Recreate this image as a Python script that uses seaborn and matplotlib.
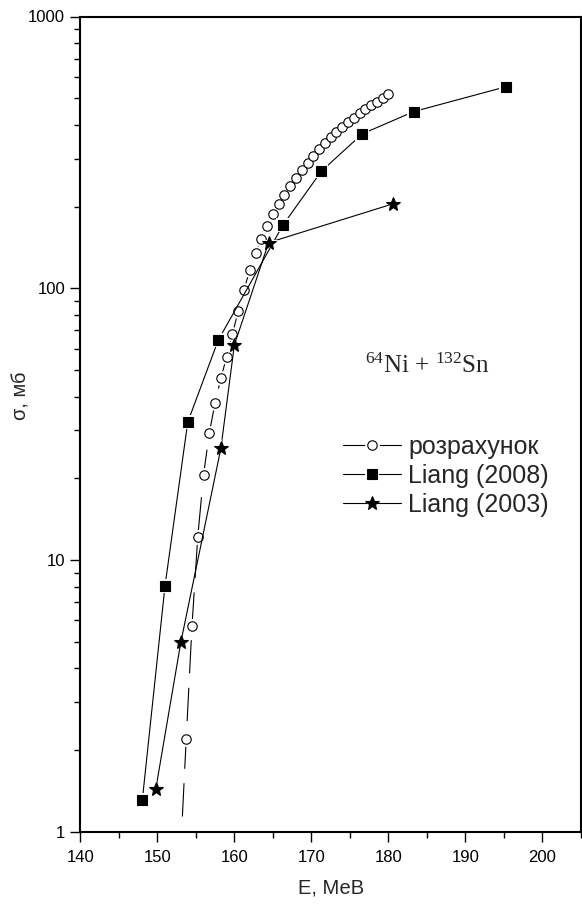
import matplotlib
matplotlib.use("Agg")
import matplotlib.pyplot as plt
import seaborn as sns
from matplotlib.legend_handler import HandlerTuple
from matplotlib.lines import Line2D

# ---------------- data ----------------
calc_E = [153.75, 154.5, 155.25, 156.0, 156.75, 157.5, 158.25, 159.0, 159.75,
          160.5, 161.25, 162.0, 162.75, 163.5, 164.25, 165.0, 165.75, 166.5,
          167.25, 168.0, 168.75, 169.5, 170.25, 171.0, 171.75, 172.5, 173.25,
          174.0, 174.75, 175.5, 176.25, 177.0, 177.75, 178.5, 179.25, 180.0]
calc_sigma = [2.20, 5.74, 12.2, 20.6, 29.4, 38.0, 46.7, 56.1, 67.8,
              82.6, 98.9, 116.6, 134.6, 152.0, 170.1, 187.3, 204.4, 221.2,
              238.8, 255.5, 272.7, 290.1, 307.7, 325.8, 342.8, 359.7, 376.2,
              392.5, 408.4, 424.6, 440.7, 456.0, 471.7, 486.3, 503.0, 519.0]
# start of the calculated curve (no marker)
calc_start_E = [153.25]
calc_start_sigma = [1.14]

liang2008_E = [148.05, 151.0, 153.95, 157.9, 166.35, 171.3, 176.6, 183.3, 195.3]
liang2008_sigma = [1.31, 8.06, 32.2, 64.4, 171.6, 269.7, 370.0, 447.0, 552.0]

liang2003_E = [149.8, 153.05, 158.25, 160.0, 164.45, 180.55]
liang2003_sigma = [1.44, 4.99, 25.8, 61.9, 147.3, 204.4]

labels = ["розрахунок", "Liang (2008)", "Liang (2003)"]
x_ticks = [140, 150, 160, 170, 180, 190, 200]
y_ticks = [1, 10, 100, 1000]
y_ticklabels = ["1", "10", "100", "1000"]

# ---------------- style ----------------
sns.set_style("ticks")
plt.rcParams["font.family"] = ["Liberation Sans", "DejaVu Sans"]
plt.rcParams["mathtext.fontset"] = "custom"
plt.rcParams["mathtext.rm"] = "Liberation Serif"
plt.rcParams["mathtext.default"] = "rm"

fig = plt.figure(figsize=(5.82, 9.06), dpi=100)
W, H = 582, 906
ax = fig.add_axes([80.3 / W, 1 - 832 / H, (581 - 80.3) / W, (832 - 16.5) / H])
ax.set_yscale("log")

LW = 0.8
GAP = 3.8  # pt added to marker size for white gap around markers


def series(E, S, marker, ms, mfc, ls, line_E=None, line_S=None):
    lx = (line_E or []) + E
    ly = (line_S or []) + S
    sns.lineplot(x=lx, y=ly, ax=ax, color="k", lw=LW, linestyle=ls,
                 estimator=None, sort=False, errorbar=None)
    sns.lineplot(x=E, y=S, ax=ax, color="k", linestyle="none", marker=marker,
                 markersize=ms + GAP, markerfacecolor="w", markeredgecolor="w",
                 markeredgewidth=0, estimator=None, sort=False, errorbar=None)
    l2 = ax.lines[-1]
    sns.lineplot(x=E, y=S, ax=ax, color="k", linestyle="none", marker=marker,
                 markersize=ms, markerfacecolor=mfc, markeredgecolor="k",
                 markeredgewidth=0.8, estimator=None, sort=False, errorbar=None)
    l3 = ax.lines[-1]
    proxy = Line2D([], [], color="k", lw=LW, linestyle="-")
    return (proxy, l2, l3)


h_calc = series(calc_E, calc_sigma, "o", 6.8, "w", (0, (30, 13)),
                calc_start_E, calc_start_sigma)
h_2008 = series(liang2008_E, liang2008_sigma, "s", 6.6, "k", "-")
h_2003 = series(liang2003_E, liang2003_sigma, "*", 10.5, "k", "-")

# ---------------- axes ----------------
ax.set_xlim(140, 205)
ax.set_ylim(1, 1000)
ax.set_xticks(x_ticks)
ax.set_xticklabels([str(t) for t in x_ticks])
ax.set_xticks([145, 155, 165, 175, 185, 195, 205], minor=True)
ax.set_yticks(y_ticks)
ax.set_yticklabels(y_ticklabels)
ax.yaxis.set_minor_locator(matplotlib.ticker.LogLocator(base=10, subs=range(2, 10)))
ax.yaxis.set_minor_formatter(matplotlib.ticker.NullFormatter())

for sp in ax.spines.values():
    sp.set_linewidth(1.5)
    sp.set_color("k")
ax.tick_params(which="major", direction="out", length=7, width=1.0,
               labelsize=12, pad=4, colors="k")
ax.tick_params(axis="x", which="major", pad=6)
ax.tick_params(which="minor", direction="out", length=4, width=1.0, colors="k")
ax.tick_params(top=False, right=False, which="both")

ax.set_xlabel("E, МеВ", fontsize=14.5, labelpad=10)
ax.set_ylabel("σ, мб", fontsize=14.5, labelpad=8)
ax.yaxis.set_label_coords(-0.1, 0.535)

fig.text(365 / W, 1 - 373 / H, r"$^{64}$Ni + $^{132}$Sn", fontsize=18,
         family="Liberation Serif", ha="left", va="baseline")

leg = ax.legend([h_calc, h_2008, h_2003], labels,
                handler_map={tuple: HandlerTuple(ndivide=1)},
                loc="upper left", bbox_to_anchor=(343 / W, 1 - 435 / H),
                bbox_transform=fig.transFigure, frameon=False, fontsize=18,
                handlelength=2.3, handletextpad=0.3, labelspacing=0.2,
                borderpad=0, borderaxespad=0)

fig.savefig("out.png", dpi=100)
